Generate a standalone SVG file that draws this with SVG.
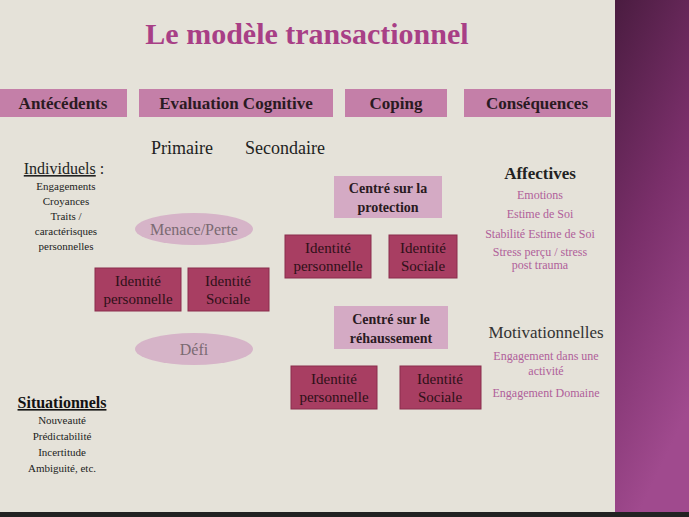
<svg xmlns="http://www.w3.org/2000/svg" width="689" height="517" viewBox="0 0 689 517">
<defs>
<linearGradient id="side" x1="0" y1="0" x2="0.3" y2="1">
<stop offset="0" stop-color="#4a1c40"/><stop offset="0.5" stop-color="#7a2f6a"/><stop offset="1" stop-color="#a04a8e"/>
</linearGradient>
</defs>
<style>
text{font-family:"Liberation Serif",serif;text-anchor:middle}
.hdr{fill:#c47fa8}
.hdrt{font-size:17px;font-weight:bold;fill:#2a1a22}
.lt{fill:#d4aac4}
.ltt{font-size:14px;font-weight:bold;fill:#2a1a22}
.dk{fill:#a83e62;stroke:#8a2c4c;stroke-width:1}
.dkt{font-size:15px;fill:#2e1018}
.sm{font-size:11px;fill:#222}
.pk{font-size:12px;fill:#b0609a}
.el{fill:#d6b4c8}
.elt{font-size:16px;fill:#7a6a72}
</style>
<rect width="689" height="517" fill="#e5e2d9"/>
<rect x="615" y="0" width="74" height="517" fill="url(#side)"/>
<rect x="0" y="512" width="689" height="5" fill="#222"/>
<text x="307" y="44" style="font-size:30px;font-weight:bold;fill:#a83f86">Le modèle transactionnel</text>
<g id="h1"><rect class="hdr" x="0" y="89" width="127" height="28"/><text class="hdrt" x="63" y="109">Antécédents</text></g>
<g id="h2"><rect class="hdr" x="139" y="89" width="194" height="28"/><text class="hdrt" x="236" y="109">Evaluation Cognitive</text></g>
<g id="h3"><rect class="hdr" x="345" y="89" width="102" height="28"/><text class="hdrt" x="396" y="109">Coping</text></g>
<g id="h4"><rect class="hdr" x="464" y="89" width="147" height="28"/><text class="hdrt" x="537" y="109">Conséquences</text></g>
<text x="182" y="154" style="font-size:18px;fill:#222">Primaire</text>
<text x="285" y="154" style="font-size:18px;fill:#222">Secondaire</text>
<text x="64" y="174" style="font-size:16px;fill:#222"><tspan text-decoration="underline">Individuels</tspan> :</text>
<text class="sm" x="66" y="190">Engagements</text>
<text class="sm" x="66" y="205">Croyances</text>
<text class="sm" x="66" y="220">Traits /</text>
<text class="sm" x="66" y="235">caractérisques</text>
<text class="sm" x="66" y="250">personnelles</text>
<text x="62" y="408" style="font-size:16px;font-weight:bold;fill:#111;text-decoration:underline">Situationnels</text>
<text class="sm" x="62" y="424">Nouveauté</text>
<text class="sm" x="62" y="440">Prédictabilité</text>
<text class="sm" x="62" y="456">Incertitude</text>
<text class="sm" x="62" y="472">Ambiguité, etc.</text>
<g id="menace"><ellipse class="el" cx="194" cy="229" rx="59" ry="16"/><text class="elt" x="194" y="235">Menace/Perte</text></g>
<g id="defi"><ellipse class="el" cx="194" cy="349" rx="59" ry="16"/><text class="elt" x="194" y="355">Défi</text></g>
<g id="ip1"><rect class="dk" x="95" y="268" width="86" height="43"/><text class="dkt" x="138" y="286">Identité</text><text class="dkt" x="138" y="304">personnelle</text></g>
<g id="is1"><rect class="dk" x="188" y="268" width="81" height="43"/><text class="dkt" x="228" y="286">Identité</text><text class="dkt" x="228" y="304">Sociale</text></g>
<g id="prot"><rect class="lt" x="334" y="176" width="108" height="42"/><text class="ltt" x="388" y="193">Centré sur la</text><text class="ltt" x="388" y="212">protection</text></g>
<g id="ip2"><rect class="dk" x="285" y="235" width="86" height="43"/><text class="dkt" x="328" y="253">Identité</text><text class="dkt" x="328" y="271">personnelle</text></g>
<g id="is2"><rect class="dk" x="389" y="235" width="68" height="43"/><text class="dkt" x="423" y="253">Identité</text><text class="dkt" x="423" y="271">Sociale</text></g>
<g id="reh"><rect class="lt" x="334" y="306" width="114" height="43"/><text class="ltt" x="391" y="324">Centré sur le</text><text class="ltt" x="391" y="343">réhaussement</text></g>
<g id="ip3"><rect class="dk" x="291" y="366" width="86" height="43"/><text class="dkt" x="334" y="384">Identité</text><text class="dkt" x="334" y="402">personnelle</text></g>
<g id="is3"><rect class="dk" x="400" y="366" width="81" height="43"/><text class="dkt" x="440" y="384">Identité</text><text class="dkt" x="440" y="402">Sociale</text></g>
<text x="540" y="179" style="font-size:17px;font-weight:bold;fill:#222">Affectives</text>
<text class="pk" x="540" y="199">Emotions</text>
<text class="pk" x="540" y="218">Estime de Soi</text>
<text class="pk" x="540" y="238">Stabilité Estime de Soi</text>
<text class="pk" x="540" y="256">Stress perçu / stress</text>
<text class="pk" x="540" y="269">post trauma</text>
<text x="546" y="338" style="font-size:17px;fill:#333">Motivationnelles</text>
<text class="pk" x="546" y="360">Engagement dans une</text>
<text class="pk" x="546" y="375">activité</text>
<text class="pk" x="546" y="397">Engagement Domaine</text>
<g id="connectors"/>
</svg>
